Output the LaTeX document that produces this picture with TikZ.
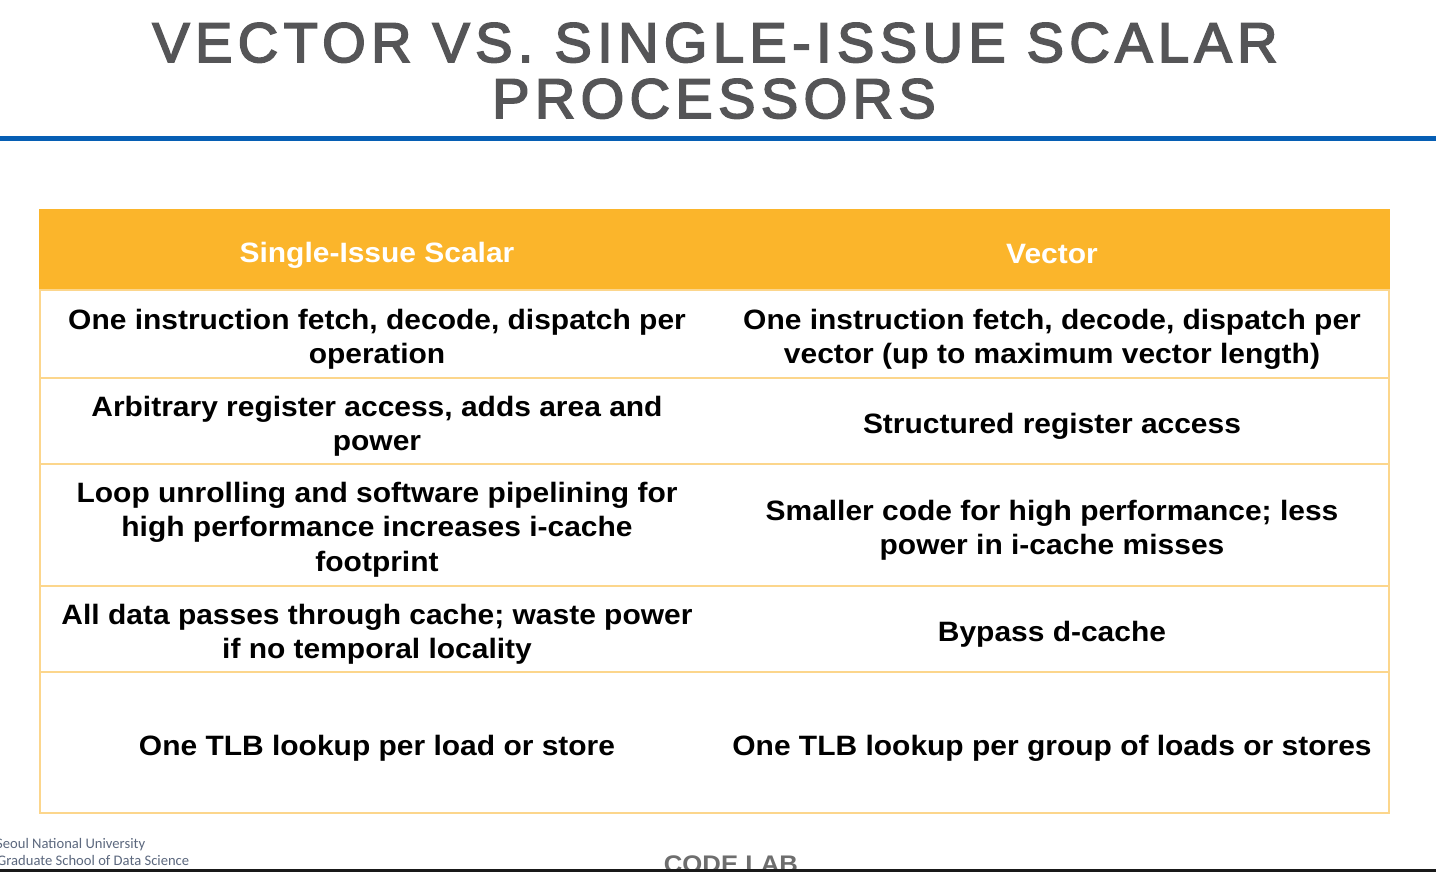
\documentclass[tikz,border=0pt]{standalone}
\usepackage{fontspec}
\setmainfont{Liberation Sans}[FakeStretch=1.07]
\newfontfamily\titlefont{Liberation Sans}[FakeBold=3,LetterSpace=9.6]
\newfontfamily\footfont{Carlito}
\usetikzlibrary{positioning}
\pgfdeclarelayer{edgelayer}
\pgfdeclarelayer{nodelayer}
\pgfsetlayers{main,edgelayer,nodelayer}
\definecolor{titlegray}{RGB}{85,85,87}
\definecolor{rulblue}{RGB}{6,94,180}
\definecolor{headfill}{RGB}{251,181,43}
\definecolor{tabline}{RGB}{252,214,140}
\definecolor{footblue}{RGB}{92,104,126}
\definecolor{codegray}{RGB}{110,110,110}
\tikzstyle{titletext}=[anchor=base,inner sep=0,text=titlegray,font=\titlefont\fontsize{56}{56}\selectfont]
\tikzstyle{rowbox}=[rectangle,draw=tabline,line width=2pt,minimum width=1349pt,inner sep=0]
\tikzstyle{headbox}=[rowbox,fill=headfill,draw=headfill]
\tikzstyle{cell}=[align=center,inner sep=0,text=black,font=\bfseries\fontsize{28}{34.5}\selectfont]
\tikzstyle{headcell}=[cell,text=white]
\tikzstyle{foot}=[anchor=base west,inner sep=0,text=footblue,font=\footfont\fontsize{14.6}{15}\selectfont]

\begin{document}
\begin{tikzpicture}[x=1pt,y=-1pt]
	\fill[white] (0,0) rectangle (1436,872);
	\useasboundingbox (0,0) rectangle (1436,872);
	\begin{pgfonlayer}{edgelayer}
		\node [style=headbox, minimum height=80pt] (hd) at (714.5,250) {};
		\node [style=rowbox, minimum height=88pt] (r1) at (714.5,334) {};
		\node [style=rowbox, minimum height=86pt] (r2) at (714.5,421) {};
		\node [style=rowbox, minimum height=122pt] (r3) at (714.5,525) {};
		\node [style=rowbox, minimum height=86pt] (r4) at (714.5,629) {};
		\node [style=rowbox, minimum height=141pt] (r5) at (714.5,742.5) {};
		\draw [rulblue, line width=5pt] (0,139) -- (1436,139);
	\end{pgfonlayer}
	\begin{pgfonlayer}{nodelayer}
		\node [style=titletext] (title1) at (715,62) {VECTOR VS. SINGLE-ISSUE SCALAR};
		\node [style=titletext] (title2) at (714,118) {PROCESSORS};
		\node [style=headcell] (hsingle) at (377,255) {Single-Issue Scalar};
		\node [style=headcell] (hvector) at (1052,254) {Vector};
		\node [style=cell] (s1) at (377,339.5) {One instruction fetch, decode, dispatch per\\operation};
		\node [style=cell] (v1) at (1052,339.5) {One instruction fetch, decode, dispatch per\\vector (up to maximum vector length)};
		\node [style=cell] (s2) at (377,426.5) {Arbitrary register access, adds area and\\power};
		\node [style=cell] (v2) at (1052,426.5) {Structured register access};
		\node [style=cell] (s3) at (377,529.5) {Loop unrolling and software pipelining for\\high performance increases i-cache\\footprint};
		\node [style=cell] (v3) at (1052,530.5) {Smaller code for high performance; less\\power in i-cache misses};
		\node [style=cell] (s4) at (377,634.5) {All data passes through cache; waste power\\if no temporal locality};
		\node [style=cell] (v4) at (1052,634.5) {Bypass d-cache};
		\node [style=cell] (s5) at (377,748) {One TLB lookup per load or store};
		\node [style=cell] (v5) at (1052,748) {One TLB lookup per group of loads or stores};
		\node [style=foot] (uni) at (-4,848.5) {Seoul National University};
		\node [style=foot] (school) at (-3,865.5) {Graduate School of Data Science};
		\node [anchor=base,inner sep=0,text=codegray,font=\bfseries\fontsize{24}{24}\selectfont] (lab) at (731,872) {CODE LAB};
		\fill [black!90] (0,869) rectangle (1436,872);
	\end{pgfonlayer}
\end{tikzpicture}
\end{document}
